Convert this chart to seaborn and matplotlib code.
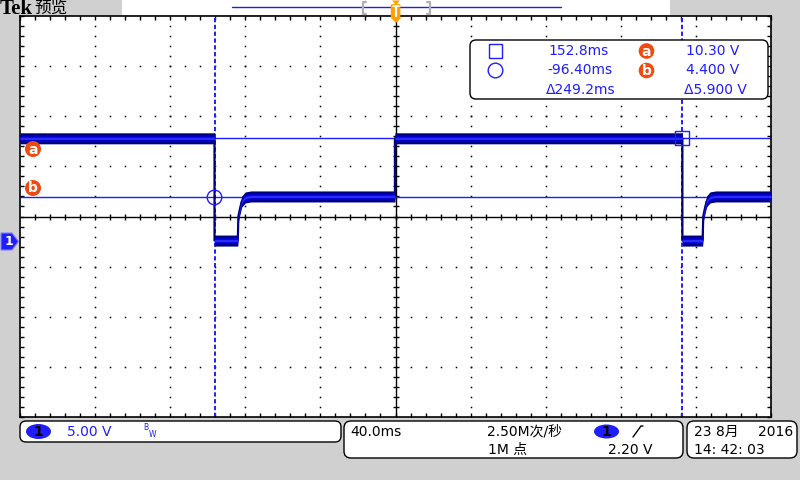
import numpy as np
import matplotlib
matplotlib.use("Agg")
import matplotlib.pyplot as plt
import seaborn as sns
from matplotlib.patches import FancyBboxPatch, Ellipse, Polygon, Rectangle, Circle
from matplotlib.lines import Line2D

# ---------------- data ----------------
wave_time_ms = [-200.0, -96.4, -96.4, -84.0, -83.7, -82.8, -81.9, -80.0, -77.0,
                -0.3, -0.3, 152.8, 152.8, 163.6, 163.9, 164.8, 165.7, 167.5, 170.5, 200.0]
wave_volts = [10.3, 10.3, 0.1, 0.1, 2.5, 3.3, 4.0, 4.4, 4.5,
              4.5, 10.3, 10.3, 0.1, 0.1, 2.5, 3.3, 4.0, 4.4, 4.5, 4.5]

cursor_times_ms = [152.8, -96.40]      # square cursor, circle cursor
cursor_volts = [10.30, 4.400]          # cursor a, cursor b
readout_time = ["152.8ms", "-96.40ms", "\u0394249.2ms"]
readout_volt = ["10.30 V", "4.400 V", "\u03945.900 V"]

volts_per_div = 5.0
ms_per_div = 40.0
center_volts = 2.5
ch_label = "1"
scale_text = "5.00 V"
timebase_text = "40.0ms"
rate_text = "2.50M次/秒"
points_text = "1M 点"
trig_level_text = "2.20 V"
date_text = "23 8月"
year_text = "2016"
clock_text = "14: 42: 03"

# ---------------- style ----------------
sns.set_style("white")
plt.rcParams['font.family'] = ['DejaVu Sans', 'Noto Sans CJK SC']

W, H = 800, 480
fig = plt.figure(figsize=(8, 4.8), dpi=100, facecolor='#d0d0d0')
inch = fig.dpi_scale_trans
BLUE = '#1e1eff'
ORANGE_RED = '#f04a10'

def fx(px):
    return px / W

def fy(py):
    return 1 - py / H

def ix(px):
    return px / 100.0

def iy(py):
    return (H - py) / 100.0

def rbox(x0, y0, x1, y1, r=6, fc='white', ec='black', lw=1.0, z=1):
    p = FancyBboxPatch((ix(x0), iy(y1)), (x1 - x0) / 100, (y1 - y0) / 100,
                       boxstyle=f"round,pad=0,rounding_size={r/100}",
                       transform=inch, fc=fc, ec=ec, lw=lw, zorder=z)
    fig.add_artist(p)

# ---------------- main graticule ----------------
L, T, R, B = 20, 16, 771, 417
ax = fig.add_axes([fx(L), fy(B), (R - L) / W, (B - T) / H])
ax.set_facecolor('white')
xmin, xmax = -5 * ms_per_div, 5 * ms_per_div
ymin, ymax = center_volts - 4 * volts_per_div, center_volts + 4 * volts_per_div
ax.set_xlim(xmin, xmax)
ax.set_ylim(ymin, ymax)
for s in ax.spines.values():
    s.set_color('black')
    s.set_linewidth(1.2)
ax.set_xticks(np.arange(xmin, xmax + 1, ms_per_div))
ax.set_xticks(np.arange(xmin, xmax + 1, ms_per_div / 5), minor=True)
ax.set_yticks(np.arange(ymin, ymax + 0.1, volts_per_div))
ax.set_yticks(np.arange(ymin, ymax + 0.1, volts_per_div / 5), minor=True)
ax.tick_params(which='both', direction='in', length=3, width=1, color='black',
               top=True, right=True, bottom=True, left=True,
               labelbottom=False, labelleft=False)

# dotted grid
gx, gy = [], []
for xv in np.arange(xmin + ms_per_div, xmax, ms_per_div):
    if abs(xv) < 1e-9:
        continue
    for yv in np.arange(ymin + 1, ymax, volts_per_div / 5):
        gx.append(xv); gy.append(yv)
for yv in np.arange(ymin + volts_per_div, ymax, volts_per_div):
    if abs(yv - center_volts) < 1e-9:
        continue
    for xv in np.arange(xmin + ms_per_div / 5, xmax, ms_per_div / 5):
        gx.append(xv); gy.append(yv)
ax.plot(gx, gy, ls='none', marker='s', ms=1.1, mew=0, color='black', zorder=1)

# center cross with ticks
ax.axhline(center_volts, color='black', lw=1.0, zorder=1)
ax.axvline(0, color='black', lw=1.0, zorder=1)
tx = np.arange(xmin + ms_per_div / 5, xmax, ms_per_div / 5)
ax.plot(tx, np.full_like(tx, center_volts), ls='none', marker='|', ms=5, mew=1, color='black', zorder=1)
ty = np.arange(ymin + 1, ymax, volts_per_div / 5)
ax.plot(np.zeros_like(ty), ty, ls='none', marker='_', ms=5, mew=1, color='black', zorder=1)

# cursors
for cv in cursor_volts:
    ax.axhline(cv, color=BLUE, lw=1.0, zorder=2)
for ct in cursor_times_ms:
    ax.axvline(ct, color=BLUE, lw=1.4, ls=(0, (2.2, 1.3)), zorder=2)

# waveform
t = np.array(wave_time_ms)
v = np.array(wave_volts)
sns.lineplot(x=t, y=v, sort=False, estimator=None, color='#00007a', lw=1.6, ax=ax, zorder=3)
ax.fill_between(t, v - 0.55, v + 0.55, color='#00007a', lw=0, zorder=4)
ax.fill_between(t, v - 0.34, v + 0.34, color='#0000c4', lw=0, zorder=4)
ax.fill_between(t, v - 0.12, v + 0.12, color='#2a2aff', lw=0, zorder=4)

# cursor markers
sns.scatterplot(x=[cursor_times_ms[0]], y=[cursor_volts[0]], marker='s', s=100,
                facecolor='none', edgecolor=BLUE, linewidth=1.0, ax=ax, zorder=5)
sns.scatterplot(x=[cursor_times_ms[1]], y=[cursor_volts[1]], marker='o', s=110,
                facecolor='none', edgecolor=BLUE, linewidth=1.0, ax=ax, zorder=5)
ax.set_xlabel('')
ax.set_ylabel('')

# a / b markers at left
for letter, cy in (("a", 149), ("b", 188)):
    fig.add_artist(Circle((ix(33), iy(cy)), 0.08, transform=inch, fc=ORANGE_RED, ec='none', zorder=3))
    fig.text(fx(33), fy(cy + 0.5), letter, color='white', fontsize=10, fontweight='bold',
             ha='center', va='center', zorder=4)

# ground marker
gnd_y = 241.5
fig.add_artist(Polygon([(ix(1), iy(gnd_y - 8.5)), (ix(12), iy(gnd_y - 8.5)), (ix(18.5), iy(gnd_y)),
                        (ix(12), iy(gnd_y + 8.5)), (ix(1), iy(gnd_y + 8.5))],
                       closed=True, transform=inch, fc=BLUE, ec='#8080ff', lw=0.8, zorder=3))
fig.text(fx(8.5), fy(gnd_y), ch_label, color='white', fontsize=9, fontweight='bold',
         ha='center', va='center', zorder=4)

# ---------------- top bar ----------------
fig.text(fx(0), fy(8.5), "Tek", family=['Liberation Serif'], fontweight='bold', fontsize=15,
         ha='left', va='center', color='black')
fig.text(fx(34), fy(8.5), "预览", family=['Noto Sans CJK SC'], fontsize=12,
         ha='left', va='center', color='black')
fig.add_artist(Rectangle((ix(122), iy(15)), (670 - 122) / 100, 15 / 100, transform=inch,
                         fc='white', ec='none', zorder=1))
fig.add_artist(Line2D([ix(232), ix(561)], [iy(7), iy(7)], transform=inch, color='#2020e0', lw=1.0, zorder=2))
for bx, d in ((363, 1), (430, -1)):
    fig.add_artist(Line2D([ix(bx + 3 * d), ix(bx), ix(bx), ix(bx + 3 * d)],
                          [iy(2), iy(2), iy(14), iy(14)], transform=inch,
                          color='#b0b0b0', lw=1.6, zorder=2))
ORANGE = '#ffa000'
fig.add_artist(Polygon([(ix(392), iy(0.5)), (ix(400), iy(0.5)), (ix(396), iy(5))], closed=True,
                       transform=inch, fc=ORANGE, ec='none', zorder=5))
fig.add_artist(FancyBboxPatch((ix(390.8), iy(18)), 9.6 / 100, 14 / 100,
                              boxstyle="round,pad=0,rounding_size=0.015", transform=inch,
                              fc=ORANGE, ec='none', zorder=5))
fig.add_artist(Polygon([(ix(390.5), iy(17.5)), (ix(401.5), iy(17.5)), (ix(396), iy(23))], closed=True,
                       transform=inch, fc=ORANGE, ec='none', zorder=5))
fig.add_artist(Line2D([ix(392.8), ix(398.8)], [iy(6.5), iy(6.5)], transform=inch,
                      color='white', lw=1.2, zorder=6))
fig.add_artist(Line2D([ix(395.8), ix(395.8)], [iy(6.5), iy(16)], transform=inch,
                      color='white', lw=1.6, zorder=6))

# ---------------- cursor readout box ----------------
rbox(470, 40, 768, 99, r=6, z=3)
fig.add_artist(Rectangle((ix(488.5), iy(58)), 14 / 100, 14 / 100, transform=inch,
                         fc='none', ec=BLUE, lw=1.0, zorder=4))
fig.add_artist(Circle((ix(495.5), iy(70.5)), 0.073, transform=inch, fc='none', ec=BLUE, lw=1.0, zorder=4))
row_y = [51, 70.5, 90]
time_right = [609, 613, 616]
volt_right = [739, 739, 747]
for i in range(3):
    fig.text(fx(time_right[i]), fy(row_y[i]), readout_time[i], color=BLUE, fontsize=10,
             ha='right', va='center', zorder=5)
    fig.text(fx(volt_right[i]), fy(row_y[i]), readout_volt[i], color=BLUE, fontsize=10,
             ha='right', va='center', zorder=5)
for letter, cy in (("a", 51), ("b", 70.5)):
    fig.add_artist(Circle((ix(646.5), iy(cy)), 0.078, transform=inch, fc=ORANGE_RED, ec='none', zorder=4))
    fig.text(fx(646.5), fy(cy + 0.5), letter, color='white', fontsize=10, fontweight='bold',
             ha='center', va='center', zorder=5)

# ---------------- bottom status boxes ----------------
rbox(20, 421, 341, 442, r=6)
fig.add_artist(Ellipse((ix(38.5), iy(431.5)), 25 / 100, 15 / 100, transform=inch, fc=BLUE, ec='none', zorder=2))
fig.text(fx(38.5), fy(431.5), ch_label, color='black', fontsize=10, fontweight='bold',
         ha='center', va='center', zorder=3)
fig.text(fx(67), fy(431.5), scale_text, color=BLUE, fontsize=10, ha='left', va='center', zorder=3)
fig.text(fx(143), fy(427.5), "B", color=BLUE, fontsize=5.5, ha='left', va='center', zorder=3)
fig.text(fx(148.5), fy(434.5), "W", color=BLUE, fontsize=5.5, ha='left', va='center', zorder=3)

rbox(344, 421, 683, 458, r=7)
fig.text(fx(350), fy(431.5), timebase_text, color='black', fontsize=10, ha='left', va='center', zorder=3)
fig.text(fx(487), fy(431.5), rate_text, color='black', fontsize=10, ha='left', va='center', zorder=3)
fig.text(fx(488), fy(450), points_text, color='black', fontsize=10, ha='left', va='center', zorder=3)
fig.add_artist(Ellipse((ix(606.5), iy(431.5)), 25 / 100, 14 / 100, transform=inch, fc=BLUE, ec='none', zorder=2))
fig.text(fx(606.5), fy(431.5), ch_label, color='black', fontsize=10, fontweight='bold',
         ha='center', va='center', zorder=3)
fig.add_artist(Line2D([ix(633), ix(641), ix(643)], [iy(437), iy(426), iy(426)], transform=inch,
                      color='black', lw=1.0, zorder=3))
fig.text(fx(652), fy(450), trig_level_text, color='black', fontsize=10, ha='right', va='center', zorder=3)

rbox(687, 421, 797, 458, r=7)
fig.text(fx(694), fy(431.5), date_text, color='black', fontsize=10, ha='left', va='center', zorder=3)
fig.text(fx(793), fy(431.5), year_text, color='black', fontsize=10, ha='right', va='center', zorder=3)
fig.text(fx(694), fy(450), clock_text, color='black', fontsize=10, ha='left', va='center', zorder=3)

fig.savefig("out.png", dpi=100, facecolor=fig.get_facecolor())
